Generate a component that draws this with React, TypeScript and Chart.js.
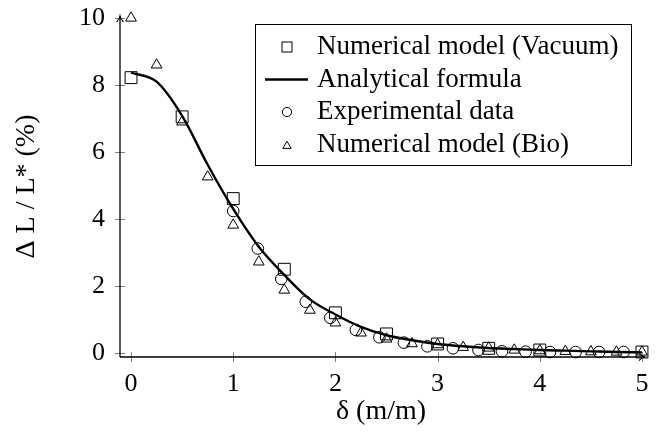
import React, { useEffect, useRef } from 'react';
import { Chart, registerables } from 'chart.js';

Chart.register(...registerables);

// ---- Data ----
const xTicks = [0, 1, 2, 3, 4, 5];
const yTicks = [0, 2, 4, 6, 8, 10];

const vacuumX = [0, 0.5, 1, 1.5, 2, 2.5, 3, 3.5, 4, 5];
const vacuumY = [8.22, 7.05, 4.61, 2.5, 1.2, 0.57, 0.27, 0.14, 0.09, 0.03];

const formulaX = [0, 0.25, 0.5, 0.75, 1, 1.25, 1.5, 1.75, 2, 2.25, 2.5, 2.75, 3, 3.25, 3.5, 3.75, 4, 4.25, 4.5, 4.75, 5];
const formulaY = [8.37, 8.1, 7.08, 5.62, 4.3, 3.17, 2.33, 1.6, 1.15, 0.78, 0.53, 0.38, 0.27, 0.2, 0.15, 0.12, 0.09, 0.07, 0.05, 0.03, 0.02];

const expX = [1.0, 1.24, 1.47, 1.71, 1.95, 2.2, 2.43, 2.67, 2.9, 3.15, 3.4, 3.63, 3.86, 4.1, 4.35, 4.58, 4.82];
const expY = [4.24, 3.12, 2.21, 1.53, 1.05, 0.69, 0.47, 0.31, 0.2, 0.14, 0.09, 0.05, 0.04, 0.03, 0.03, 0.03, 0.03];

const bioX = [0, 0.25, 0.5, 0.75, 1, 1.25, 1.5, 1.75, 2, 2.25, 2.5, 2.75, 3, 3.25, 3.5, 3.75, 4, 4.25, 4.5, 4.75, 5];
const bioY = [10, 8.6, 6.9, 5.26, 3.82, 2.72, 1.88, 1.28, 0.9, 0.6, 0.42, 0.28, 0.25, 0.17, 0.15, 0.09, 0.07, 0.05, 0.04, 0.03, 0.03];

const legendLabels = [
  'Numerical model (Vacuum)',
  'Analytical formula',
  'Experimental data',
  'Numerical model (Bio)',
];

const xTitle = 'δ (m/m)';
const yTitle = 'Δ L / L* (%)';

const SERIF = "'Liberation Serif', 'Times New Roman', serif";

const pts = (xs: number[], ys: number[]) => xs.map((x, i) => ({ x, y: ys[i] }));

export default function App() {
  const ref = useRef<HTMLCanvasElement>(null);

  useEffect(() => {
    const canvas = ref.current;
    if (!canvas) return;

    const axesPlugin = {
      id: 'pgfAxes',
      afterDatasetsDraw(chart: any) {
        const { ctx, chartArea, scales } = chart;
        const xs = scales.x;
        const ys = scales.y;
        const x0 = chartArea.left;
        const y0 = chartArea.bottom;
        ctx.save();
        // ticks
        ctx.strokeStyle = '#808080';
        ctx.lineWidth = 1;
        for (const v of xTicks) {
          const px = Math.round(xs.getPixelForValue(v)) + 0.5;
          ctx.beginPath();
          ctx.moveTo(px, y0 - 5);
          ctx.lineTo(px, y0 + 5);
          ctx.stroke();
        }
        for (const v of yTicks) {
          const py = Math.round(ys.getPixelForValue(v)) + 0.5;
          ctx.beginPath();
          ctx.moveTo(x0 - 5, py);
          ctx.lineTo(x0 + 5, py);
          ctx.stroke();
        }
        // axis lines
        ctx.strokeStyle = '#000';
        ctx.lineWidth = 1.3;
        const tipY = chartArea.top;
        const tipX = chartArea.right + 3;
        ctx.beginPath();
        ctx.moveTo(x0, y0);
        ctx.lineTo(x0, tipY);
        ctx.moveTo(x0, y0);
        ctx.lineTo(tipX, y0);
        ctx.stroke();
        // arrow heads
        ctx.lineWidth = 1.1;
        ctx.beginPath();
        ctx.moveTo(x0 - 3.5, tipY + 6);
        ctx.quadraticCurveTo(x0 - 0.5, tipY + 3, x0, tipY);
        ctx.quadraticCurveTo(x0 + 0.5, tipY + 3, x0 + 3.5, tipY + 6);
        ctx.moveTo(tipX - 6, y0 - 3.5);
        ctx.quadraticCurveTo(tipX - 3, y0 - 0.5, tipX, y0);
        ctx.quadraticCurveTo(tipX - 3, y0 + 0.5, tipX - 6, y0 + 3.5);
        ctx.stroke();
        ctx.restore();
      },
    };

    const legendPlugin = {
      id: 'pgfLegend',
      afterDraw(chart: any) {
        const { ctx } = chart;
        const bx = 255.5, by = 24.5, bw = 376, bh = 141;
        ctx.save();
        ctx.fillStyle = '#fff';
        ctx.fillRect(bx, by, bw, bh);
        ctx.strokeStyle = '#000';
        ctx.lineWidth = 1;
        ctx.strokeRect(bx, by, bw, bh);
        const mx = 287;
        const rows = [47, 79.5, 112, 145];
        ctx.lineWidth = 1;
        // square
        ctx.strokeRect(mx - 5, rows[0] - 5, 10, 10);
        // line
        ctx.lineWidth = 2.4;
        ctx.beginPath();
        ctx.moveTo(265, rows[1]);
        ctx.lineTo(308, rows[1]);
        ctx.stroke();
        ctx.lineWidth = 1;
        // circle
        ctx.beginPath();
        ctx.arc(mx, rows[2], 4.6, 0, Math.PI * 2);
        ctx.stroke();
        // triangle
        const r = 4.8;
        ctx.beginPath();
        for (let k = 0; k < 3; k++) {
          const a = -Math.PI / 2 + (k * 2 * Math.PI) / 3;
          const px = mx + Math.cos(a) * r;
          const py = rows[3] + 1 + Math.sin(a) * r;
          if (k === 0) ctx.moveTo(px, py); else ctx.lineTo(px, py);
        }
        ctx.closePath();
        ctx.stroke();
        // texts
        ctx.fillStyle = '#000';
        ctx.font = `27px ${SERIF}`;
        ctx.textAlign = 'left';
        ctx.textBaseline = 'middle';
        legendLabels.forEach((t, i) => ctx.fillText(t, 317, rows[i]));
        ctx.restore();
      },
    };

    const chart = new Chart(canvas, {
      type: 'line',
      data: {
        datasets: [
          {
            label: legendLabels[1],
            data: pts(formulaX, formulaY),
            borderColor: '#000',
            borderWidth: 2.4,
            pointRadius: 0,
            cubicInterpolationMode: 'monotone',
            fill: false,
            clip: false as any,
            order: 2,
          },
          {
            label: legendLabels[0],
            data: pts(vacuumX, vacuumY),
            showLine: false,
            pointStyle: 'rect',
            pointRadius: 8.4,
            pointBorderWidth: 1,
            pointBorderColor: '#000',
            pointBackgroundColor: 'rgba(0,0,0,0)',
            borderColor: '#000',
            clip: false as any,
            order: 1,
          },
          {
            label: legendLabels[2],
            data: pts(expX, expY),
            showLine: false,
            pointStyle: 'circle',
            pointRadius: 5.8,
            pointBorderWidth: 1,
            pointBorderColor: '#000',
            pointBackgroundColor: 'rgba(0,0,0,0)',
            borderColor: '#000',
            clip: false as any,
            order: 1,
          },
          {
            label: legendLabels[3],
            data: pts(bioX, bioY),
            showLine: false,
            pointStyle: 'triangle',
            pointRadius: 6.2,
            pointBorderWidth: 1,
            pointBorderColor: '#000',
            pointBackgroundColor: 'rgba(0,0,0,0)',
            borderColor: '#000',
            clip: false as any,
            order: 1,
          },
        ],
      },
      options: {
        responsive: false,
        animation: false,
        devicePixelRatio: 1,
        layout: { padding: { top: 16, right: 19, left: 0, bottom: 0 } },
        plugins: {
          legend: { display: false },
          tooltip: { enabled: false },
        },
        scales: {
          x: {
            type: 'linear',
            min: -0.108,
            max: 5,
            afterFit: (s: any) => { s.height = 78; },
            afterBuildTicks: (s: any) => { s.ticks = xTicks.map((v) => ({ value: v })); },
            grid: { display: false, drawTicks: false },
            border: { display: false },
            ticks: {
              font: { family: SERIF, size: 26 },
              color: '#000',
              padding: 12,
              maxRotation: 0,
              autoSkip: false,
              callback: (v: any) => String(v),
            },
            title: {
              display: true,
              text: xTitle,
              font: { family: SERIF, size: 28 },
              color: '#000',
              padding: { top: 0, bottom: 7 },
            },
          },
          y: {
            type: 'linear',
            min: -0.119,
            max: 10.06,
            afterFit: (s: any) => { s.width = 120; },
            afterBuildTicks: (s: any) => { s.ticks = yTicks.map((v) => ({ value: v })); },
            grid: { display: false, drawTicks: true, tickLength: 15 },
            border: { display: false },
            ticks: {
              font: { family: SERIF, size: 26 },
              color: '#000',
              padding: 0,
              autoSkip: false,
              callback: (v: any) => String(v),
            },
            title: {
              display: true,
              text: yTitle,
              font: { family: SERIF, size: 28 },
              color: '#000',
              padding: { top: 10, bottom: 0 },
            },
          },
        },
      },
      plugins: [axesPlugin, legendPlugin],
    } as any);

    return () => chart.destroy();
  }, []);

  return (
    <div style={{ position: 'absolute', left: 0, top: 0, width: 661, height: 435, background: '#fff' }}>
      <canvas ref={ref} width={661} height={435} style={{ display: 'block' }} />
    </div>
  );
}
